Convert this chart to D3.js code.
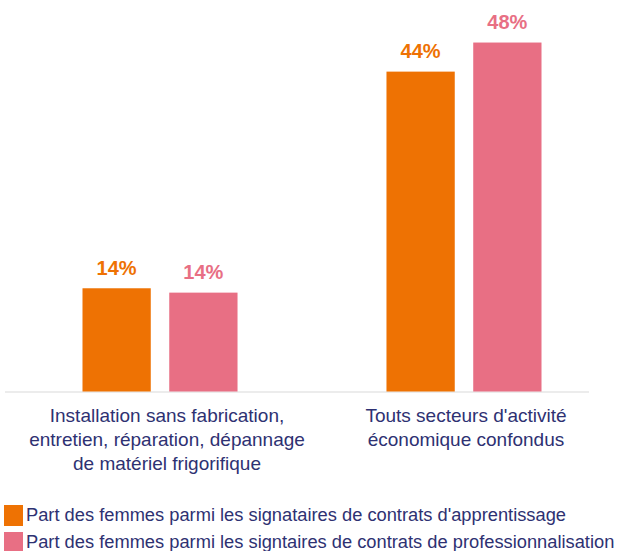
<!DOCTYPE html>
<html>
<head>
<meta charset="utf-8">
<script src="https://cdn.jsdelivr.net/npm/d3@7"></script>
<style>
  body { margin: 0; background: #fff; }
  svg text { font-family: "Liberation Sans", Arial, sans-serif; }
</style>
</head>
<body>
<div id="chart"></div>
<script>
// Data
const categories = [
  ["Installation sans fabrication,", "entretien, réparation, dépannage", "de matériel frigorifique"],
  ["Touts secteurs d'activité", "économique confondus"]
];
const categoryKeys = ["installation", "tous"];
const seriesNames = [
  "Part des femmes parmi les signataires de contrats d'apprentissage",
  "Part des femmes parmi les signtaires de contrats de professionnalisation"
];
const apprentissage = [14.2, 44];
const professionnalisation = [13.6, 48];
const valueLabels = [["14%", "14%"], ["44%", "48%"]];
const colors = ["#ee7203", "#e86f84"];

const width = 618;
const height = 551;
const textColor = "#2e3172";

const svg = d3.select("#chart")
  .append("svg")
  .attr("width", width)
  .attr("height", height);

const x0 = d3.scaleBand()
  .domain(categoryKeys)
  .range([6.5, 617.5])
  .paddingInner(0.49)
  .paddingOuter(0.25);

const x1 = d3.scaleBand()
  .domain([0, 1])
  .range([0, x0.bandwidth()])
  .paddingInner(0.213);

const y = d3.scaleLinear()
  .domain([0, 50])
  .range([391.5, 28]);

// Axis line
svg.append("line")
  .attr("x1", 5)
  .attr("x2", 589)
  .attr("y1", y(0) + 0.5)
  .attr("y2", y(0) + 0.5)
  .attr("stroke", "#d9d9d9")
  .attr("stroke-width", 1);

const series = [apprentissage, professionnalisation];
const labelShift = [7, 2];

categoryKeys.forEach((key, i) => {
  const g = svg.append("g").attr("transform", `translate(${x0(key)},0)`);
  series.forEach((vals, s) => {
    g.append("rect")
      .attr("x", x1(s))
      .attr("y", y(vals[i]))
      .attr("width", x1.bandwidth())
      .attr("height", y(0) - y(vals[i]))
      .attr("fill", colors[s]);
    g.append("text")
      .attr("x", x1(s) + x1.bandwidth() / 2)
      .attr("y", y(vals[i]) - 13.5)
      .attr("text-anchor", "middle")
      .attr("font-size", 20)
      .attr("font-weight", "bold")
      .attr("fill", colors[s])
      .text(valueLabels[i][s]);
  });

  // Category label
  const cx = x0(key) + x0.bandwidth() / 2 + labelShift[i];
  const t = svg.append("text")
    .attr("x", cx)
    .attr("y", 422)
    .attr("text-anchor", "middle")
    .attr("font-size", 19)
    .attr("fill", textColor);
  categories[i].forEach((line, j) => {
    t.append("tspan")
      .attr("x", cx)
      .attr("dy", j === 0 ? 0 : 24)
      .text(line);
  });
});

// Legend
const legend = svg.append("g");
seriesNames.forEach((name, s) => {
  const ly = 505 + s * 27;
  legend.append("rect")
    .attr("x", 4)
    .attr("y", ly)
    .attr("width", 19)
    .attr("height", 21)
    .attr("fill", colors[s]);
  legend.append("text")
    .attr("x", 26)
    .attr("y", ly + 16)
    .attr("font-size", 18.3)
    .attr("fill", textColor)
    .text(name);
});
</script>
</body>
</html>
